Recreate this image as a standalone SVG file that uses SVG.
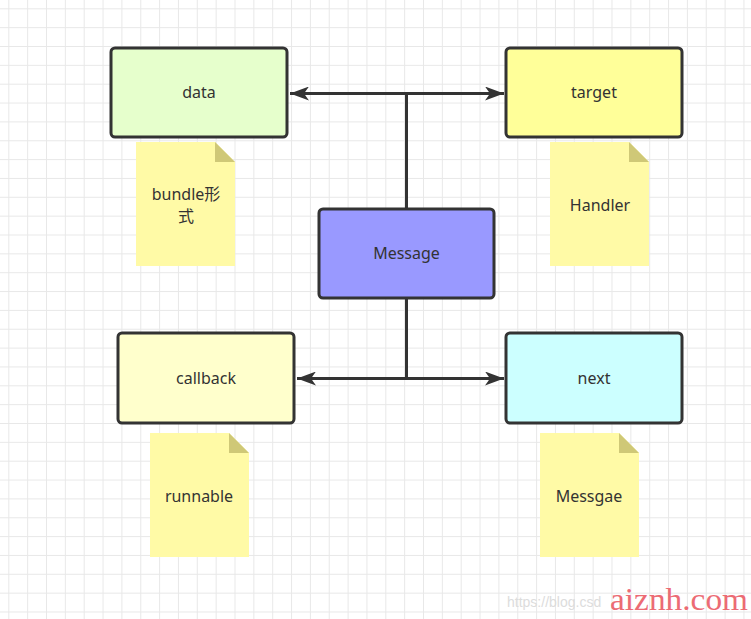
<svg xmlns="http://www.w3.org/2000/svg" width="751" height="619" viewBox="0 0 751 619">
<defs>
<pattern id="grid" patternUnits="userSpaceOnUse" x="8.3" y="8.3" width="18.85" height="18.85">
<path d="M0,0.5 H18.85 M0.5,0 V18.85" fill="none" stroke="#e8e8e8" stroke-width="1"/>
</pattern>
<marker id="arrow" viewBox="0 0 20 14" refX="20" refY="7" markerWidth="20" markerHeight="14" markerUnits="userSpaceOnUse" orient="auto">
<path d="M20,7 L1,0 L6,7 L1,14 Z" fill="#333333"/>
</marker>
<style>
.box{stroke:#333333;stroke-width:3}
.note{fill:#fffaa6}
.fold{fill:#cfc877}
.lbl{font-family:"Noto Sans","Liberation Sans","Noto Sans CJK SC",sans-serif;font-size:16px;fill:#333333;text-anchor:middle}
.edge{fill:none;stroke:#333333;stroke-width:3;marker-end:url(#arrow)}
</style>
</defs>
<rect width="751" height="619" fill="#ffffff"/>
<rect width="751" height="619" fill="url(#grid)"/>

<g id="connectors">
<path class="edge" d="M406.5,209 V93.5 H290"/>
<path class="edge" d="M406.5,209 V93.5 H504"/>
<path class="edge" d="M406.5,298 V378.5 H297"/>
<path class="edge" d="M406.5,298 V378.5 H504"/>
</g>

<g id="data">
<rect class="box" x="111" y="48" width="176" height="89" rx="4" fill="#e6ffcc"/>
<text class="lbl" x="199" y="98">data</text>
</g>
<g id="target">
<rect class="box" x="506" y="48" width="176" height="89" rx="4" fill="#ffff99"/>
<text class="lbl" x="594" y="98">target</text>
</g>
<g id="message">
<rect class="box" x="319" y="209" width="175" height="89" rx="4" fill="#9999ff"/>
<text class="lbl" x="406.5" y="259">Message</text>
</g>
<g id="callback">
<rect class="box" x="118" y="333" width="176" height="90" rx="4" fill="#ffffcc"/>
<text class="lbl" x="206" y="384">callback</text>
</g>
<g id="next">
<rect class="box" x="506" y="333" width="176" height="90" rx="4" fill="#ccffff"/>
<text class="lbl" x="594" y="384">next</text>
</g>

<g id="note-bundle">
<path class="note" d="M136,142 H215 L235,162 V266 H136 Z"/>
<path class="fold" d="M215,142 L235,162 H215 Z"/>
<text class="lbl" x="186" y="200">bundle形</text>
<text class="lbl" x="186" y="222">式</text>
</g>
<g id="note-handler">
<path class="note" d="M550,142 H629 L649,162 V266 H550 Z"/>
<path class="fold" d="M629,142 L649,162 H629 Z"/>
<text class="lbl" x="600" y="211">Handler</text>
</g>
<g id="note-runnable">
<path class="note" d="M150,433 H229 L249,453 V557 H150 Z"/>
<path class="fold" d="M229,433 L249,453 H229 Z"/>
<text class="lbl" x="199" y="502">runnable</text>
</g>
<g id="note-messgae">
<path class="note" d="M540,433 H619 L639,453 V557 H540 Z"/>
<path class="fold" d="M619,433 L639,453 H619 Z"/>
<text class="lbl" x="589" y="502">Messgae</text>
</g>

<g id="watermark">
<text x="507" y="607" font-family="Liberation Sans, sans-serif" font-size="14" fill="#dcdcdc">https://blog.csd</text>
<text x="610" y="610" font-family="Liberation Serif, serif" font-size="32" fill="#ec6b74" textLength="138" lengthAdjust="spacingAndGlyphs">aiznh.com</text>
</g>
</svg>
